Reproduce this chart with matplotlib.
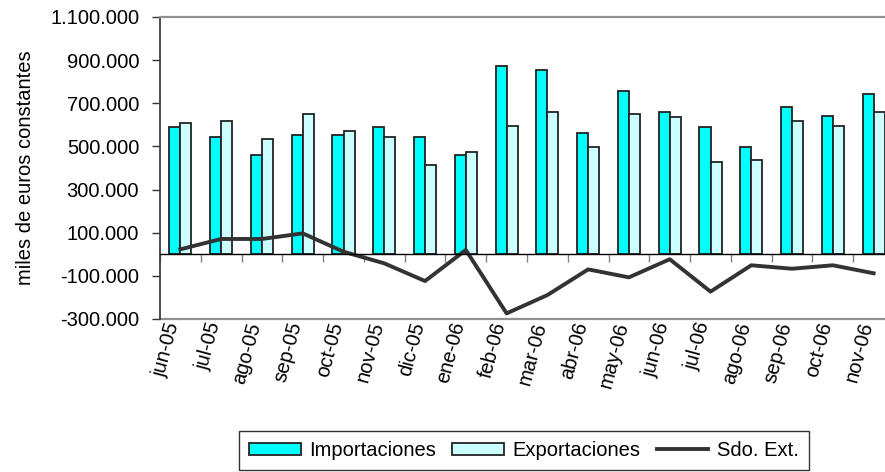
import numpy as np
import matplotlib
matplotlib.use('Agg')
import matplotlib.pyplot as plt
import matplotlib.transforms as mtransforms

plt.rcParams['font.family'] = ['Liberation Sans', 'DejaVu Sans']

#_______________________________________________________________________________________________________________________
# DATA (miles de euros constantes)
meses = ['jun-05', 'jul-05', 'ago-05', 'sep-05', 'oct-05', 'nov-05', 'dic-05', 'ene-06', 'feb-06',
         'mar-06', 'abr-06', 'may-06', 'jun-06', 'jul-06', 'ago-06', 'sep-06', 'oct-06', 'nov-06']
importaciones = [589000, 544000, 459000, 552000, 552000, 589000, 544000, 459000, 874000,
                 856000, 561000, 757000, 661000, 589000, 496000, 682000, 643000, 743000]
exportaciones = [607000, 617000, 533000, 652000, 570000, 544000, 413000, 476000, 596000,
                 661000, 496000, 652000, 635000, 429000, 439000, 617000, 596000, 661000]
saldo = [23000, 71000, 71000, 97000, 12000, -42000, -124000, 20000, -274000,
         -189000, -70000, -107000, -23000, -173000, -51000, -67000, -51000, -88000]

y_ticks = np.arange(-300000, 1100001, 200000)

#_______________________________________________________________________________________________________________________
# PLOT
fs = 14.5
fig = plt.figure(figsize=(8.85, 4.72), dpi=100)
ax = fig.add_axes([160/885, 153/472, 734/885, 302/472])

x = np.arange(len(meses))
w = 0.27
b1 = ax.bar(x - w/2, importaciones, w, color='#00FFFF', edgecolor='#222222', linewidth=1.3,
            label='Importaciones', zorder=2)
b2 = ax.bar(x + w/2, exportaciones, w, color='#CCFFFF', edgecolor='#222222', linewidth=1.3,
            label='Exportaciones', zorder=2)
l1, = ax.plot(x, saldo, color='#333333', linewidth=2.8, label='Sdo. Ext.', zorder=3)

ax.set_xlim(-0.5, len(meses) - 0.5)
ax.set_ylim(y_ticks[0], y_ticks[-1])
ax.set_yticks(y_ticks)
ax.set_yticklabels([f'{v:,.0f}'.replace(',', '.') for v in y_ticks], fontsize=fs)
ax.tick_params(axis='y', direction='out', length=6, width=1, color='#333333', pad=9)

# x axis at zero with separators between months
ax.spines['bottom'].set_position(('data', 0))
ax.spines['bottom'].set_color('black')
ax.spines['bottom'].set_linewidth(1)
ax.spines['bottom'].set_zorder(4)
ax.set_xticks(np.arange(-0.5, len(meses), 1.0))
ax.tick_params(axis='x', direction='out', length=6, width=1, color='#808080', labelbottom=False)
ax.axhline(y_ticks[0], color='#909090', linewidth=1.6, clip_on=False, zorder=1)

ax.spines['left'].set_color('#404040')
ax.spines['left'].set_linewidth(1.3)
ax.spines['top'].set_color('#909090')
ax.spines['top'].set_linewidth(1.6)
ax.spines['right'].set_color('#909090')

# month labels, rotated below the plot area
trans = mtransforms.blended_transform_factory(ax.transData, ax.transAxes)
for i, m in enumerate(meses):
    ax.text(i + 0.07, -0.02, m, transform=trans, rotation=75, rotation_mode='anchor',
            ha='right', va='bottom', fontsize=fs)

ax.set_ylabel('miles de euros constantes', fontsize=fs)
ax.yaxis.set_label_coords((35 - 160) / 734, 0.5)

leg = fig.legend([b1, b2, l1], ['Importaciones', 'Exportaciones', 'Sdo. Ext.'],
                 loc='upper center', bbox_to_anchor=(524/885, 1 - 431/472), ncol=3, fontsize=fs,
                 frameon=True, fancybox=False, edgecolor='black', handlelength=2.55,
                 handleheight=0.55, handletextpad=0.43, columnspacing=0.8, borderpad=0.5,
                 borderaxespad=0)
leg.get_frame().set_linewidth(1)

plt.savefig('out.png', dpi=100)
